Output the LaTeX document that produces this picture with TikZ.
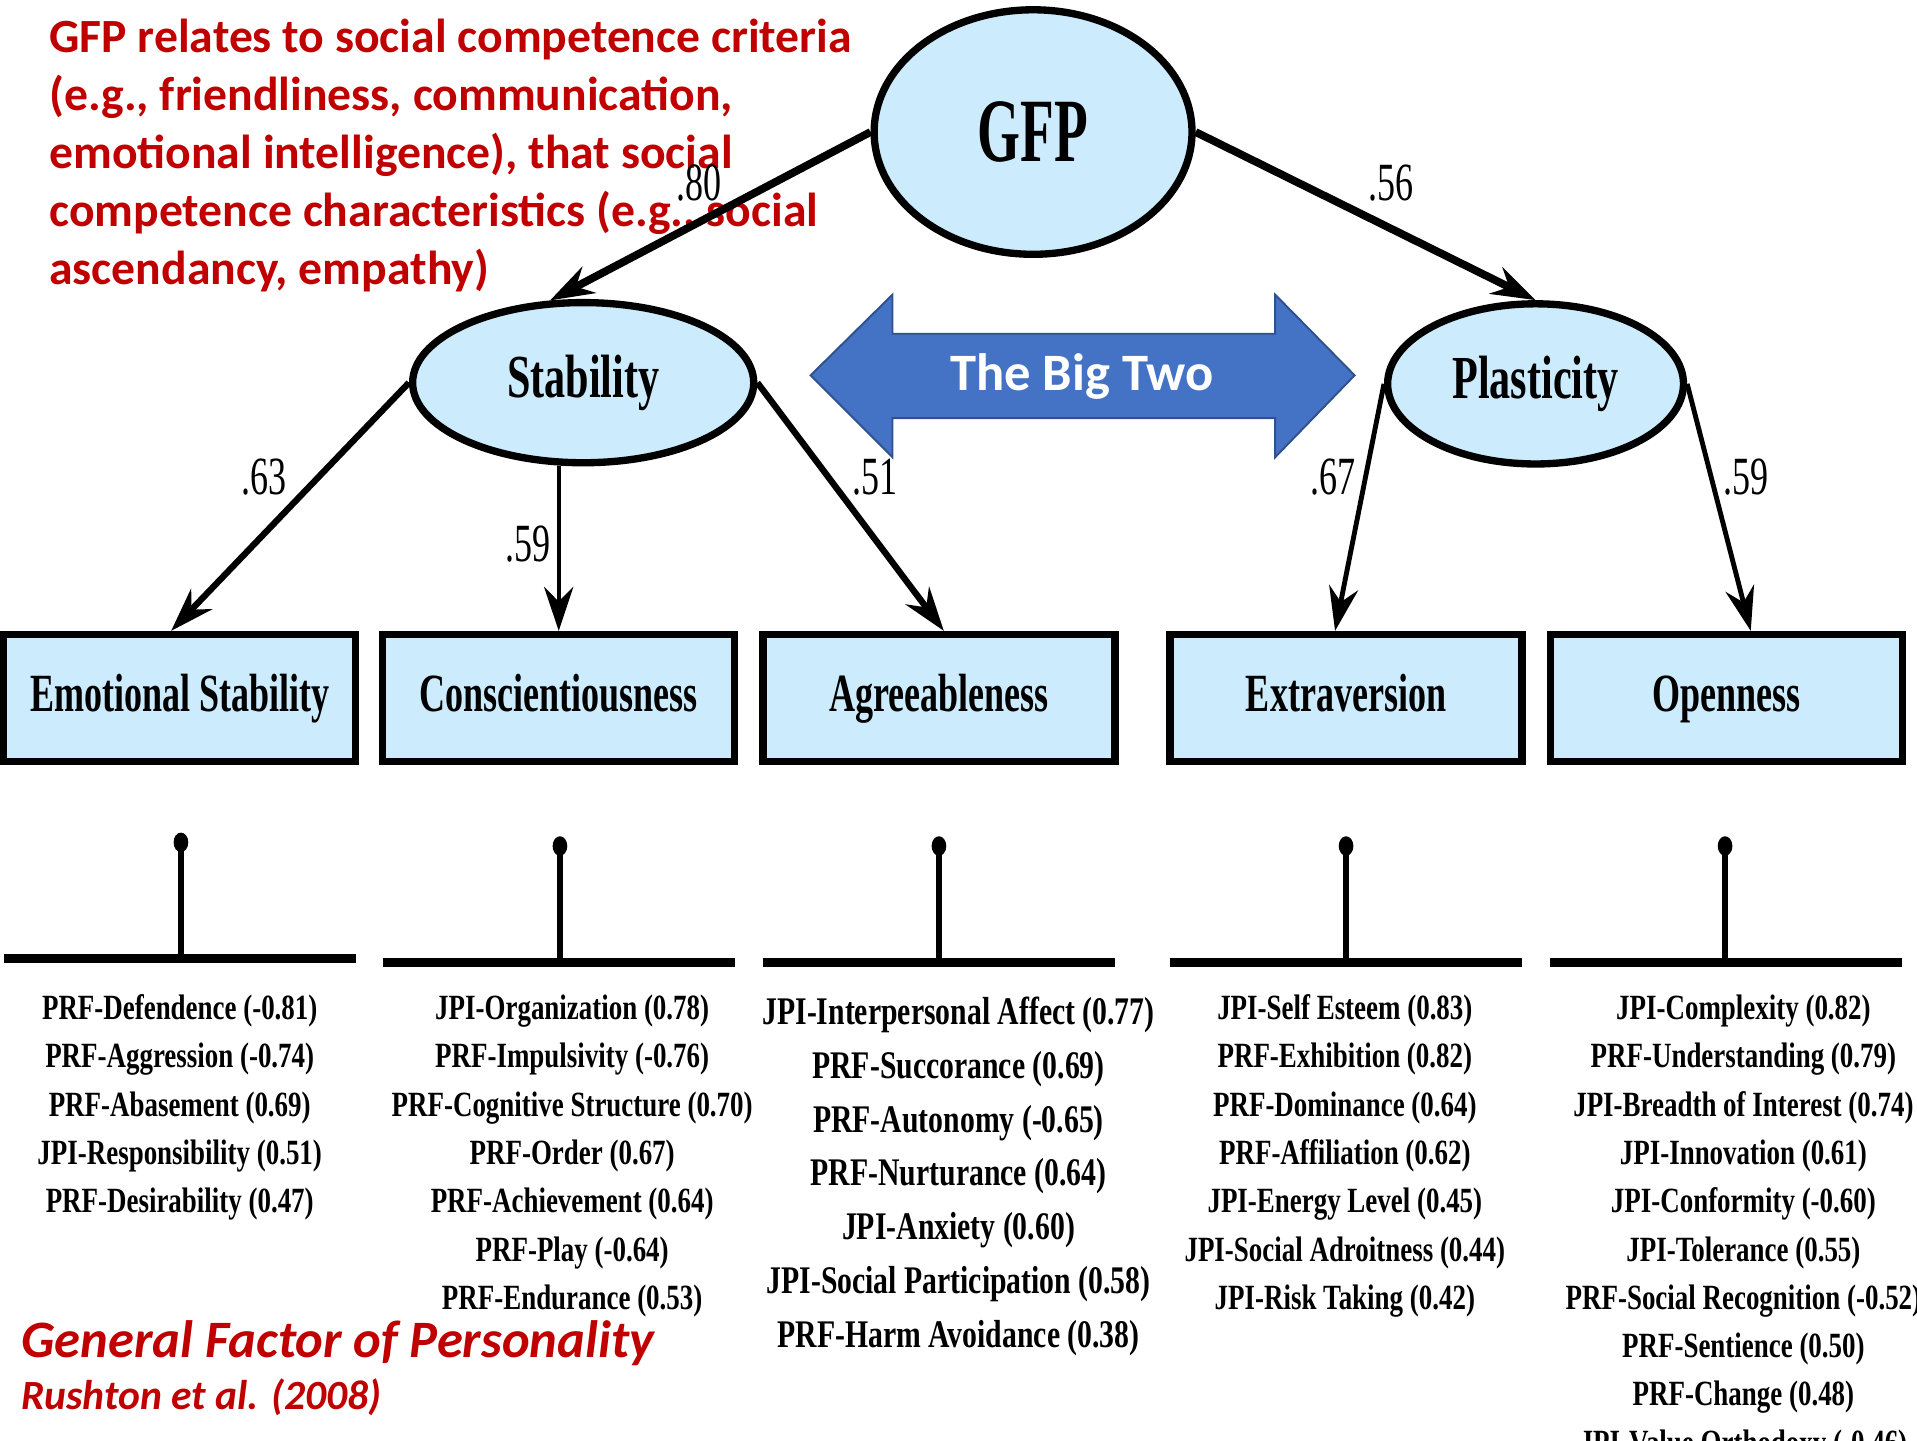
\documentclass[tikz,border=0pt]{standalone}
\usepackage{fontspec}
\usepackage{graphicx}
\setmainfont{Liberation Serif}
\newfontfamily\calibrifam{Carlito}
\usetikzlibrary{shapes.geometric,arrows.meta}

\definecolor{boxblue}{RGB}{204,235,252}
\definecolor{alertred}{RGB}{192,0,0}
\definecolor{bigblue}{RGB}{68,114,196}
\definecolor{bigedge}{RGB}{47,82,143}

% horizontally condensed text
\newcommand\hsq[2]{\scalebox{#1}[1]{#2}}

\begin{document}
\begin{tikzpicture}[x=0.5pt,y=-0.5pt,
  latent/.style={ellipse,draw,line width=3pt,fill=boxblue,inner sep=0pt},
  observed/.style={rectangle,draw,line width=3pt,fill=boxblue,
    minimum width=144pt,minimum height=52pt,inner sep=0pt,
    text height=16pt,text depth=5pt,
    font=\bfseries\fontsize{22}{22}\selectfont},
  loading/.style={inner sep=0pt,font=\fontsize{22}{22}\selectfont},
  loadarrow/.style={-{Stealth[length=18pt,width=12pt,inset=6pt]}},
  scalelist/.style={inner sep=0pt,anchor=base,font=\bfseries\fontsize{14.5}{19.75}\selectfont},
  rednote/.style={inner sep=0pt,anchor=base west,text=alertred}]

\useasboundingbox (0,0) rectangle (1568,1178);
\clip (0,0) rectangle (1568,1178);

% explanatory note
\node[rednote,font=\calibrifam\bfseries\fontsize{19.5}{23.75}\selectfont] (note) at (40,43)
  {\begin{tabular}[t]{@{}l@{}}
   GFP relates to social competence criteria\\
   (e.g., friendliness, communication,\\
   emotional intelligence), that social\\
   competence characteristics (e.g., social\\
   ascendancy, empathy)
   \end{tabular}};

% latent factors
\node[latent,minimum width=130pt,minimum height=100pt,
      font=\bfseries\fontsize{37}{37}\selectfont] (gfp) at (845,108) {\hsq{0.61}{GFP}};
\node[latent,minimum width=139.5pt,minimum height=65.5pt,
      font=\bfseries\fontsize{25}{25}\selectfont] (stab) at (477,313) {\hsq{0.69}{Stability}};
\node[latent,minimum width=121pt,minimum height=65.5pt,
      font=\bfseries\fontsize{25}{25}\selectfont] (plas) at (1256,314) {\hsq{0.69}{Plasticity}};

% Big Five boxes
\node[observed] (es) at (147,571) {\hsq{0.67}{Emotional Stability}};
\node[observed] (cs) at (457,571) {\hsq{0.67}{Conscientiousness}};
\node[observed] (ag) at (768,571) {\hsq{0.67}{Agreeableness}};
\node[observed] (ex) at (1101,571) {\hsq{0.67}{Extraversion}};
\node[observed] (op) at (1412,571) {\hsq{0.67}{Openness}};

% the Big Two double arrow
\draw[fill=bigblue,draw=bigedge,line width=0.8pt]
  (663,307) -- (730,241) -- (730,273) -- (1043,273) -- (1043,241) -- (1108,307)
  -- (1043,374) -- (1043,342) -- (730,342) -- (730,374) -- cycle;
\node[inner sep=0pt,text=white,font=\calibrifam\bfseries\fontsize{21.5}{21.5}\selectfont]
  (bigtwo) at (885,308) {The Big Two};

% loadings
\draw[loadarrow,line width=3.2pt] (gfp.west) -- (stab.112);
\draw[loadarrow,line width=3.2pt] (gfp.east) -- (plas.north);
\draw[loadarrow,line width=2.6pt] (stab.west) -- ([xshift=-3.5pt]es.north);
\draw[loadarrow,line width=1.6pt] (stab.south -| cs.north) -- (cs.north);
\draw[loadarrow,line width=2.6pt] (stab.east) -- ([xshift=2pt]ag.north);
\draw[loadarrow,line width=2pt] (plas.west) -- ([xshift=-4.5pt]ex.north);
\draw[loadarrow,line width=2pt] (plas.east) -- ([xshift=10pt]op.north);

\node[loading] (l80) at (572,150) {\hsq{0.67}{.80}};
\node[loading] (l56) at (1138,150) {\hsq{0.67}{.56}};
\node[loading] (l63) at (216,390) {\hsq{0.67}{.63}};
\node[loading] (l59a) at (432,445) {\hsq{0.67}{.59}};
\node[loading] (l51) at (716,390) {\hsq{0.67}{.51}};
\node[loading] (l67) at (1090,390) {\hsq{0.67}{.67}};
\node[loading] (l59b) at (1428,390) {\hsq{0.67}{.59}};

% scale brackets
\foreach \x/\yb/\ybar/\l/\r in {148/689/784/3/291, 458/692/787/313/601,
    768/692/787/624/912, 1101/692/787/957/1245, 1411/692/787/1268/1556}{
  \draw[line width=3.8pt] (\l,\ybar) -- (\r,\ybar);
  \draw[line width=2.4pt] (\x,\yb) -- (\x,\ybar);
  \fill (\x,\yb) ellipse [x radius=3pt,y radius=4pt];
}

% marker scales
\node[scalelist] (list1) at (147,834) {\hsq{0.76}{\begin{tabular}[t]{@{}c@{}}
  PRF-Defendence (-0.81)\\ PRF-Aggression (-0.74)\\ PRF-Abasement (0.69)\\
  JPI-Responsibility (0.51)\\ PRF-Desirability (0.47)\end{tabular}}};
\node[scalelist] (list2) at (468,834) {\hsq{0.76}{\begin{tabular}[t]{@{}c@{}}
  JPI-Organization (0.78)\\ PRF-Impulsivity (-0.76)\\ PRF-Cognitive Structure (0.70)\\
  PRF-Order (0.67)\\ PRF-Achievement (0.64)\\ PRF-Play (-0.64)\\
  PRF-Endurance (0.53)\end{tabular}}};
\node[scalelist,font=\bfseries\fontsize{16}{22}\selectfont] (list3) at (784,838) {\hsq{0.76}{\begin{tabular}[t]{@{}c@{}}
  JPI-Interpersonal Affect (0.77)\\ PRF-Succorance (0.69)\\ PRF-Autonomy (-0.65)\\
  PRF-Nurturance (0.64)\\ JPI-Anxiety (0.60)\\ JPI-Social Participation (0.58)\\
  PRF-Harm Avoidance (0.38)\end{tabular}}};
\node[scalelist] (list4) at (1100,834) {\hsq{0.76}{\begin{tabular}[t]{@{}c@{}}
  JPI-Self Esteem (0.83)\\ PRF-Exhibition (0.82)\\ PRF-Dominance (0.64)\\
  PRF-Affiliation (0.62)\\ JPI-Energy Level (0.45)\\ JPI-Social Adroitness (0.44)\\
  JPI-Risk Taking (0.42)\end{tabular}}};
\node[scalelist] (list5) at (1426,834) {\hsq{0.76}{\begin{tabular}[t]{@{}c@{}}
  JPI-Complexity (0.82)\\ PRF-Understanding (0.79)\\ JPI-Breadth of Interest (0.74)\\
  JPI-Innovation (0.61)\\ JPI-Conformity (-0.60)\\ JPI-Tolerance (0.55)\\
  PRF-Social Recognition (-0.52)\\ PRF-Sentience (0.50)\\ PRF-Change (0.48)\\
  JPI-Value Orthodoxy (-0.46)\end{tabular}}};

% title and source
\node[rednote,font=\calibrifam\bfseries\itshape\fontsize{21.5}{21.5}\selectfont]
  (title) at (17,1110) {General Factor of Personality};
\node[rednote,font=\calibrifam\bfseries\itshape\fontsize{17}{17}\selectfont]
  (source) at (17,1153) {Rushton et al. (2008)};
\end{tikzpicture}
\end{document}
